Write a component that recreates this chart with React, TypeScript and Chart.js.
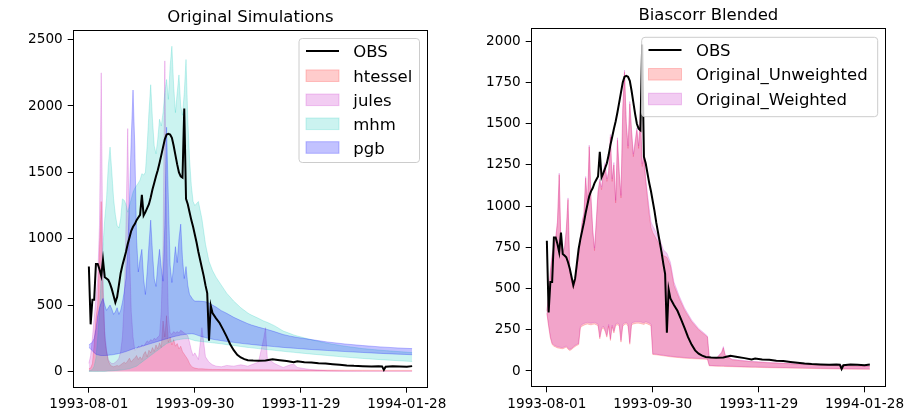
import React, { useEffect, useRef } from "react";
import { Chart, registerables } from "chart.js";

Chart.register(...registerables);

// ---------- data ----------
const DAYS = [
  0, 1, 2, 3, 4, 5, 6, 7, 8, 9,
  10, 11, 12, 13, 14, 15, 16, 17, 18, 19,
  20, 21, 22, 23, 24, 25, 26, 27, 28, 29,
  30, 31, 32, 33, 34, 35, 36, 37, 38, 39,
  40, 41, 42, 43, 44, 45, 46, 47, 48, 49,
  50, 51, 52, 53, 54, 55, 56, 57, 58, 59,
  60,
  62, 64, 66, 68, 70, 72, 75, 78, 82, 86, 90, 91, 92, 96, 99, 100, 101, 105, 110, 114, 116, 118, 125, 135, 145, 155, 165, 175, 183,
];

const OBS_DAYS = [
  0, 1, 2, 3, 4, 5, 6, 7, 8, 9,
  10, 11, 12, 13, 14, 15, 16, 17, 18, 19,
  20, 21, 22, 23, 24, 25, 26, 27, 28, 29,
  30, 31, 32, 33, 34, 35, 36, 37, 38, 39,
  40, 41, 42, 43, 44, 45, 46, 47, 48, 49,
  50, 51, 52, 53, 54, 55, 56, 57, 58, 59,
  60, 61, 62, 63, 64, 65, 66, 67, 68, 69,
  70, 72, 74, 76, 78, 80, 82, 84, 86, 88, 90, 93, 96, 100, 104, 108, 112, 116, 118, 122,
  126, 130, 134, 138, 142, 146, 150, 155, 160, 164, 166, 167, 168, 172, 176, 180, 183,
];
const OBS = [
  790, 355, 540, 540, 810, 810, 770, 720, 840, 710,
  700, 690, 660, 620, 570, 520, 560, 650, 740, 800,
  850, 900, 960, 1010, 1060, 1090, 1110, 1140, 1160, 1180,
  1330, 1175, 1200, 1230, 1260, 1310, 1370, 1420, 1470, 1515,
  1570, 1630, 1690, 1750, 1785, 1790, 1785, 1760, 1700, 1630,
  1560, 1500, 1470, 1460, 1980, 1300, 1260, 1200, 1140, 1090,
  1030, 970, 900, 840, 780, 720, 650, 590, 232, 495,
  440, 400, 365, 315, 262, 205, 160, 125, 105, 93, 85, 82, 80, 82, 92, 85, 78, 70, 76, 70,
  68, 62, 60, 55, 50, 45, 42, 40, 38, 40, 38, 12, 35, 40, 38, 35, 40,
];

const HTESSEL_HI = [
  20, 25, 60, 200, 400, 500, 900, 1280, 600, 250,
  150, 80, 50, 40, 35, 40, 45, 40, 50, 60,
  70, 60, 80, 100, 70, 90, 100, 120, 90, 110,
  90, 130, 150, 110, 160, 140, 180, 150, 200, 170,
  215, 180, 380, 260, 420, 220, 260, 200, 240, 190,
  210, 170, 190, 150, 130, 110, 90, 60, 40, 30,
  25,
  20, 20, 18, 16, 15, 15, 14, 14, 13, 13, 12, 12, 12, 12, 12, 12, 12, 11, 11, 11, 11, 10, 10, 10, 9, 9, 8, 8, 8,
];

const JULES_HI = [
  60, 120, 250, 400, 550, 700, 1100, 2250, 700, 300,
  160, 90, 70, 60, 60, 70, 80, 100, 150, 260,
  520, 1100, 1830, 900, 450, 260, 160, 170, 190, 180,
  200, 190, 210, 230, 220, 240, 230, 250, 240, 260,
  270, 450, 950, 2340, 1000, 420, 290, 280, 300, 290,
  300, 290, 310, 300, 290, 280, 270, 220, 160, 120,
  140,
  90, 330, 110, 70, 50, 40, 35, 45, 40, 50, 40, 45, 50, 70, 250, 330, 100, 60, 30, 50, 55, 30, 15, 5, 3, 2, 2, 2, 2,
];

const MHM_LO = [
  0, 0, 0, 0, 0, 0, 0, 0, 0, 0,
  2, 3, 4, 5, 6, 7, 8, 9, 10, 12,
  14, 16, 18, 20, 25, 30, 35, 40, 50, 60,
  70, 80, 90, 100, 110, 120, 130, 140, 150, 160,
  170, 180, 190, 200, 210, 215, 220, 225, 230, 235,
  238, 240, 242, 244, 246, 247, 248, 245, 240, 236,
  232,
  228, 225, 222, 219, 216, 213, 208, 202, 195, 188, 181, 180, 178, 172, 168, 166, 165, 159, 152, 146, 144, 141, 132, 120, 108, 98, 89, 81, 75,
];
const MHM_HI = [
  5, 8, 15, 40, 100, 250, 450, 700, 950, 1150,
  1300, 1550, 1690, 1500, 1300, 1180, 1100, 1080, 1150, 1300,
  1290, 1260, 1200, 1250, 1300, 1350, 1380, 1400, 1420, 1443,
  1490, 1480, 1500, 1700, 1950, 2160, 1900, 1700, 1640, 1750,
  1900, 1850, 1950, 2100, 2200, 2050, 2300, 2450, 2150, 1950,
  2100, 2234, 2000, 1930, 2100, 2350, 1900, 1600, 1400, 1280,
  1250,
  1280, 1150, 960, 830, 760, 710, 650, 590, 530, 480, 440, 432, 425, 400, 380, 375, 370, 345, 305, 285, 275, 267, 242, 212, 190, 172, 160, 150, 142,
];

const PGB_LO = [
  180, 170, 155, 140, 130, 125, 122, 120, 120, 120,
  121, 122, 124, 125, 127, 130, 132, 135, 138, 142,
  146, 150, 155, 160, 165, 170, 174, 178, 182, 186,
  190, 194, 198, 202, 206, 210, 214, 218, 222, 226,
  230, 234, 238, 242, 246, 250, 254, 258, 262, 265,
  268, 271, 274, 276, 278, 280, 282, 283, 284, 283,
  280,
  270, 262, 255, 248, 243, 238, 232, 226, 219, 212, 206, 205, 203, 198, 194, 193, 192, 187, 181, 177, 175, 173, 166, 158, 150, 143, 136, 130, 126,
];
const PGB_HI = [
  200, 210, 220, 250, 320, 420, 480, 520, 550, 500,
  460, 480, 500, 470, 430, 450, 480, 430, 460, 520,
  600, 700, 900, 1300, 1760, 2120, 1700, 1000, 750, 850,
  920, 700, 580, 750, 950, 1140, 900, 700, 640, 800,
  920, 780, 680, 1100, 1840, 1300, 800, 670, 800, 940,
  820, 1000, 1110, 850, 700, 790, 650, 580, 560, 540,
  530,
  530, 528, 525, 515, 500, 485, 458, 438, 408, 383, 360, 355, 350, 334, 323, 320, 316, 300, 278, 266, 261, 256, 242, 222, 207, 195, 185, 177, 172,
];

const UNW_LO = [
  350, 270, 200, 160, 150, 145, 140, 138, 136, 135,
  139, 145, 132, 124, 130, 140, 148, 155, 160, 262,
  272, 278, 282, 285, 282, 280, 283, 285, 280, 275,
  195, 250, 262, 240, 205, 272, 185, 268, 230, 276,
  280, 275, 175, 270, 282, 286, 272, 162, 280, 285,
  288, 290, 290, 288, 285, 282, 290, 285, 280, 275,
  100,
  98, 95, 92, 89, 86, 84, 81, 78, 75, 73, 71, 70, 31, 29, 28, 28, 27, 26, 24, 23, 22, 22, 20, 18, 16, 14, 12, 11, 10,
];
const UNW_HI = [
  360, 450, 600, 700, 750, 800, 900, 1190, 760, 720,
  740, 850, 1040, 600, 540, 500, 540, 620, 700, 800,
  900, 950, 1170, 1000, 1360, 1050, 850, 730, 900, 1080,
  1150, 1100, 1200, 1250, 1150, 1200, 1420, 1150, 1250, 1020,
  1400, 1200, 1050, 1580, 1812, 1500, 1350, 1620, 1450, 1300,
  1380, 1460, 1350, 1560, 1240, 1300, 1150, 1050, 950, 870,
  840,
  800, 760, 700, 690, 640, 520, 440, 370, 300, 250, 215, 205, 82, 75, 110, 140, 95, 68, 62, 58, 56, 55, 50, 45, 40, 36, 32, 30, 28,
];
const WGT_LO = [
  355, 278, 208, 168, 157, 152, 147, 145, 143, 142,
  146, 152, 139, 131, 137, 147, 155, 162, 167, 272,
  282, 288, 292, 295, 292, 290, 293, 295, 290, 285,
  205, 260, 272, 250, 215, 282, 195, 278, 240, 286,
  290, 285, 185, 280, 292, 296, 282, 172, 290, 295,
  298, 300, 300, 298, 295, 292, 300, 295, 290, 285,
  104,
  102, 99, 96, 93, 90, 88, 85, 82, 79, 77, 75, 74, 34, 32, 31, 31, 30, 29, 27, 26, 25, 25, 23, 21, 19, 17, 15, 14, 13,
];
const WGT_HI = [
  365, 455, 610, 710, 760, 810, 910, 1200, 770, 730,
  750, 860, 1050, 610, 550, 510, 550, 630, 710, 810,
  910, 960, 1180, 1010, 1370, 1060, 860, 745, 915, 1095,
  1165, 1115, 1215, 1265, 1165, 1215, 1435, 1165, 1265, 1035,
  1415, 1215, 1065, 1595, 1825, 1515, 1365, 1635, 1465, 1315,
  1395, 1475, 1365, 1575, 1255, 1315, 1170, 1075, 985, 905,
  880,
  840, 800, 735, 715, 660, 540, 455, 382, 310, 258, 222, 212, 86, 78, 115, 148, 99, 71, 65, 60, 58, 57, 52, 47, 42, 38, 34, 32, 30,
];

const X_TICKS = [0, 60, 120, 180];
const X_TICK_LABELS = ["1993-08-01", "1993-09-30", "1993-11-29", "1994-01-28"];
const LEFT_Y_TICKS = [0, 500, 1000, 1500, 2000, 2500];
const RIGHT_Y_TICKS = [0, 250, 500, 750, 1000, 1250, 1500, 1750, 2000];

// ---------- styles ----------
const FONT = "'DejaVu Sans', sans-serif";
const RED = "rgba(255,0,0,0.2)";
const MAG = "rgba(191,0,191,0.2)";
const CYAN = "rgba(20,200,185,0.22)";
const BLUE = "rgba(0,0,255,0.24)";

type Item = { label: string; kind: "line" | "patch"; color: string };
type Spec = {
  W: number;
  H: number;
  area: { left: number; right: number; top: number; bottom: number };
  yMin: number;
  yMax: number;
  yTicks: number[];
  title: string;
  legend: { x: number; y: number; w: number; h: number; rows: number[]; hx: number; tx: number; items: Item[] };
};

function pts(xs: number[], ys: number[]) {
  return xs.map((x, i) => ({ x, y: ys[i] }));
}

function band(label: string, ys: number[], color: string, order: number, fill: any) {
  return {
    label,
    data: pts(DAYS, ys),
    borderColor: color,
    backgroundColor: color,
    borderWidth: 1,
    pointRadius: 0,
    tension: 0,
    fill,
    order,
  };
}

function obsSet() {
  return {
    label: "OBS",
    data: pts(OBS_DAYS, OBS),
    borderColor: "#000",
    backgroundColor: "#000",
    borderWidth: 2,
    pointRadius: 0,
    tension: 0,
    fill: false,
    order: 0,
  };
}

function makeConfig(spec: Spec, datasets: any[]): any {
  const a = spec.area;
  const deco = {
    id: "deco",
    afterDraw(chart: any) {
      const ctx = chart.ctx as CanvasRenderingContext2D;
      const ca = chart.chartArea;
      ctx.save();
      ctx.strokeStyle = "#000";
      ctx.lineWidth = 1;
      const l = Math.round(ca.left) + 0.5;
      const t = Math.round(ca.top) + 0.5;
      const r = Math.round(ca.right) - 0.5;
      const b = Math.round(ca.bottom) - 0.5;
      ctx.strokeRect(l, t, r - l, b - t);
      ctx.fillStyle = "#000";
      ctx.font = `16.5px ${FONT}`;
      ctx.textAlign = "center";
      ctx.textBaseline = "alphabetic";
      ctx.fillText(spec.title, (ca.left + ca.right) / 2, ca.top - 8.5);
      const L = spec.legend;
      const rad = 3.3;
      ctx.beginPath();
      ctx.moveTo(L.x + rad, L.y);
      ctx.lineTo(L.x + L.w - rad, L.y);
      ctx.arcTo(L.x + L.w, L.y, L.x + L.w, L.y + rad, rad);
      ctx.lineTo(L.x + L.w, L.y + L.h - rad);
      ctx.arcTo(L.x + L.w, L.y + L.h, L.x + L.w - rad, L.y + L.h, rad);
      ctx.lineTo(L.x + rad, L.y + L.h);
      ctx.arcTo(L.x, L.y + L.h, L.x, L.y + L.h - rad, rad);
      ctx.lineTo(L.x, L.y + rad);
      ctx.arcTo(L.x, L.y, L.x + rad, L.y, rad);
      ctx.closePath();
      ctx.fillStyle = "rgba(255,255,255,0.8)";
      ctx.fill();
      ctx.strokeStyle = "#cccccc";
      ctx.lineWidth = 1;
      ctx.stroke();
      ctx.textAlign = "left";
      L.items.forEach((it, i) => {
        const yc = L.rows[i];
        if (it.kind === "line") {
          ctx.strokeStyle = it.color;
          ctx.lineWidth = 2;
          ctx.beginPath();
          ctx.moveTo(L.hx, yc);
          ctx.lineTo(L.hx + 33, yc);
          ctx.stroke();
        } else {
          ctx.fillStyle = it.color;
          ctx.fillRect(L.hx, yc - 5.8, 33, 11.6);
          ctx.strokeStyle = it.color;
          ctx.lineWidth = 1;
          ctx.strokeRect(L.hx, yc - 5.8, 33, 11.6);
        }
        ctx.fillStyle = "#000";
        ctx.font = `16.5px ${FONT}`;
        ctx.fillText(it.label, L.tx, yc + 6);
      });
      ctx.restore();
    },
  };
  const tickFont = { family: FONT, size: 13.6 };
  return {
    type: "line",
    data: { datasets },
    plugins: [deco],
    options: {
      animation: false,
      responsive: false,
      maintainAspectRatio: false,
      events: [],
      layout: { padding: { left: 0, right: spec.W - a.right, top: a.top, bottom: 0 } },
      plugins: {
        legend: { display: false },
        title: { display: false },
        tooltip: { enabled: false },
      },
      scales: {
        x: {
          type: "linear",
          min: -9.15,
          max: 192.15,
          afterBuildTicks: (s: any) => {
            s.ticks = X_TICKS.map((v) => ({ value: v }));
          },
          afterFit: (s: any) => {
            s.height = spec.H - a.bottom;
            s.paddingLeft = 0;
            s.paddingRight = 0;
          },
          ticks: {
            callback: (v: any) => {
              const i = X_TICKS.indexOf(Number(v));
              return i >= 0 ? X_TICK_LABELS[i] : "";
            },
            font: tickFont,
            color: "#000",
            padding: 4,
            maxRotation: 0,
            minRotation: 0,
            autoSkip: false,
          },
          grid: { display: true, drawOnChartArea: false, drawTicks: true, tickLength: 5, color: "#000", lineWidth: 1 },
          border: { display: false },
        },
        y: {
          type: "linear",
          min: spec.yMin,
          max: spec.yMax,
          afterBuildTicks: (s: any) => {
            s.ticks = spec.yTicks.map((v) => ({ value: v }));
          },
          afterFit: (s: any) => {
            s.width = a.left;
            s.paddingTop = 0;
            s.paddingBottom = 0;
          },
          ticks: {
            callback: (v: any) => String(v),
            font: tickFont,
            color: "#000",
            padding: 5,
            autoSkip: false,
          },
          grid: { display: true, drawOnChartArea: false, drawTicks: true, tickLength: 5, color: "#000", lineWidth: 1 },
          border: { display: false },
        },
      },
    },
  };
}

const LEFT_SPEC: Spec = {
  W: 452,
  H: 416,
  area: { left: 72.7, right: 428.3, top: 30, bottom: 387.7 },
  yMin: -122.5,
  yMax: 2572.5,
  yTicks: LEFT_Y_TICKS,
  title: "Original Simulations",
  legend: {
    x: 299,
    y: 38.5,
    w: 120.5,
    h: 124,
    rows: [51, 75.7, 99.8, 123.8, 147.5],
    hx: 306,
    tx: 353.3,
    items: [
      { label: "OBS", kind: "line", color: "#000" },
      { label: "htessel", kind: "patch", color: RED },
      { label: "jules", kind: "patch", color: MAG },
      { label: "mhm", kind: "patch", color: CYAN },
      { label: "pgb", kind: "patch", color: BLUE },
    ],
  },
};

const RIGHT_SPEC: Spec = {
  W: 452,
  H: 416,
  area: { left: 78.7, right: 434, top: 28.3, bottom: 387.3 },
  yMin: -99,
  yMax: 2079,
  yTicks: RIGHT_Y_TICKS,
  title: "Biascorr Blended",
  legend: {
    x: 189.7,
    y: 37.3,
    w: 236,
    h: 79.4,
    rows: [50, 74.3, 99],
    hx: 196.5,
    tx: 244,
    items: [
      { label: "OBS", kind: "line", color: "#000" },
      { label: "Original_Unweighted", kind: "patch", color: RED },
      { label: "Original_Weighted", kind: "patch", color: MAG },
    ],
  },
};

function leftDatasets() {
  return [
    band("htessel", HTESSEL_HI, RED, 6, "origin"),
    band("jules", JULES_HI, MAG, 5, "origin"),
    band("mhm_lo", MHM_LO, CYAN, 4, false),
    band("mhm", MHM_HI, CYAN, 4, "-1"),
    band("pgb_lo", PGB_LO, BLUE, 3, false),
    band("pgb", PGB_HI, BLUE, 3, "-1"),
    obsSet(),
  ];
}

function rightDatasets() {
  return [
    band("unw_lo", UNW_LO, RED, 3, false),
    band("Original_Unweighted", UNW_HI, RED, 3, "-1"),
    band("wgt_lo", WGT_LO, MAG, 2, false),
    band("Original_Weighted", WGT_HI, MAG, 2, "-1"),
    obsSet(),
  ];
}

export default function App() {
  const leftRef = useRef<HTMLCanvasElement>(null);
  const rightRef = useRef<HTMLCanvasElement>(null);
  useEffect(() => {
    const c1 = new Chart(leftRef.current as HTMLCanvasElement, makeConfig(LEFT_SPEC, leftDatasets()));
    const c2 = new Chart(rightRef.current as HTMLCanvasElement, makeConfig(RIGHT_SPEC, rightDatasets()));
    return () => {
      c1.destroy();
      c2.destroy();
    };
  }, []);
  return (
    <div style={{ position: "fixed", left: 0, top: 0, width: 904, height: 416, background: "#fff" }}>
      <canvas
        ref={leftRef}
        width={452}
        height={416}
        style={{ position: "absolute", left: 0, top: 0, width: 452, height: 416 }}
      />
      <canvas
        ref={rightRef}
        width={452}
        height={416}
        style={{ position: "absolute", left: 452, top: 0, width: 452, height: 416 }}
      />
    </div>
  );
}
